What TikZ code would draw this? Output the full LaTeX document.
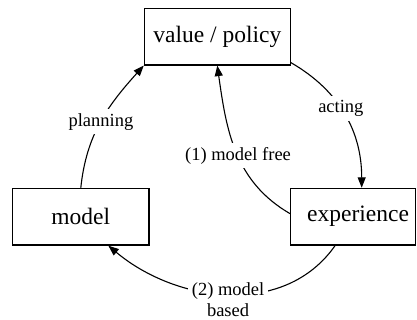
\documentclass[tikz,border=0pt]{standalone}
\usepackage{fontspec}
\setmainfont{Liberation Serif}
\usetikzlibrary{arrows.meta}

\begin{document}
\begin{tikzpicture}[x=1pt, y=1pt, line width=1.1pt,
  box/.style={draw, inner sep=4pt, minimum height=56.7pt, font=\fontsize{23.5}{28}\selectfont},
  lbl/.style={fill=white, inner sep=4pt, align=center, font=\fontsize{18.5}{21}\selectfont},
  flow/.style={-{Triangle[length=10.5pt, width=8pt]}}]
  \useasboundingbox (0, 0) rectangle (417, 320);

  % Boxes
  \node [box, minimum width=146pt] (value) at (217.3, 283.3) {value / policy};
  \node [box, minimum width=136.3pt] (model) at (80.8, 103.3) {model};
  \node [box, minimum width=124.8pt] (experience) at (353.1, 103.3) {\hspace{10pt}experience};

  % Outer loop
  \draw [flow] (model.north) to [out=84, in=228] node [lbl] {planning} (value.south west);
  \draw [flow] ([yshift=3pt]value.south east) to [out=-30, in=90] node [lbl, pos=0.45] {acting} ([xshift=8.6pt]experience.north);
  \draw [flow] ([xshift=-18pt]experience.south) to [out=-125, in=-40] node [lbl, yshift=-6pt] {(2) model\\based} ([xshift=27.5pt]model.south);

  % Direct path
  \draw [flow] ([yshift=3pt]experience.west) to [out=150, in=-82] node [lbl, pos=0.47] {(1) model free} (value.south);
\end{tikzpicture}
\end{document}
